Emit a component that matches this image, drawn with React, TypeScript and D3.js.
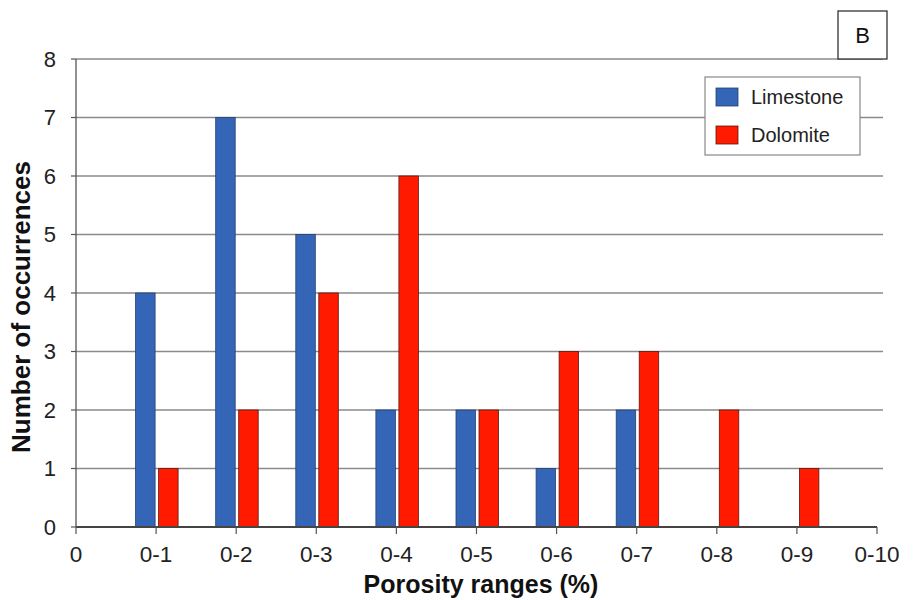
import React from 'react';
import { scaleLinear, range } from 'd3';

// tick labels along the x axis, one per integer position 0..10
const xTickLabels = ['0', '0-1', '0-2', '0-3', '0-4', '0-5', '0-6', '0-7', '0-8', '0-9', '0-10'];
// bars sit on ticks 1..9
const binPositions = [1, 2, 3, 4, 5, 6, 7, 8, 9];
const limestone = [4, 7, 5, 2, 2, 1, 2, 0, 0];
const dolomite = [1, 2, 4, 6, 2, 3, 3, 2, 1];
const yTickValues = [0, 1, 2, 3, 4, 5, 6, 7, 8];
const seriesNames = ['Limestone', 'Dolomite'];

const colors = ['#3565b6', '#ff1a00'];

export default function App() {
  const width = 915;
  const height = 600;
  const left = 76, right = 877, top = 59, bottom = 527;
  const gridEnd = 883;

  const x = scaleLinear().domain([0, 10]).range([left, right]);
  const y = scaleLinear().domain([0, 8]).range([bottom, top]);

  const barW = 19.5;
  const font = 'Arial, "Liberation Sans", sans-serif';

  return (
    <svg width={width} height={height} style={{ position: 'absolute', left: 0, top: 0 }} fontFamily={font}>
      <rect width={width} height={height} fill="#fff" />

      {/* gridlines + y ticks */}
      {yTickValues.map(v => (
        <g key={v}>
          {v > 0 && <line x1={left} x2={gridEnd} y1={y(v)} y2={y(v)} stroke="#8a8a8a" strokeWidth={1.3} />}
          <line x1={left - 5} x2={left} y1={y(v)} y2={y(v)} stroke="#555" strokeWidth={1.2} />
          <text x={56} y={y(v)} dy="0.36em" textAnchor="end" fontSize={22} fill="#222">{v}</text>
        </g>
      ))}

      {/* bars */}
      {binPositions.map((p, i) => (
        <g key={p}>
          {limestone[i] > 0 && (
            <rect x={x(p) - barW - 1} y={y(limestone[i])} width={barW} height={y(0) - y(limestone[i])}
              fill={colors[0]} stroke="#23406f" strokeWidth={0.8} />
          )}
          {dolomite[i] > 0 && (
            <rect x={x(p) + 2.5} y={y(dolomite[i])} width={barW} height={y(0) - y(dolomite[i])}
              fill={colors[1]} stroke="#5a1a10" strokeWidth={0.8} />
          )}
        </g>
      ))}

      {/* axes */}
      <line x1={left} x2={left} y1={top} y2={bottom} stroke="#555" strokeWidth={1.3} />
      <line x1={left} x2={right} y1={bottom} y2={bottom} stroke="#444" strokeWidth={1.8} />
      {range(0, 11).map(i => (
        <g key={i} transform={`translate(${x(i)},${bottom})`}>
          <line y1={0} y2={7} stroke="#555" strokeWidth={1.2} />
          <text y={35} textAnchor="middle" fontSize={22.5} fill="#222">{xTickLabels[i]}</text>
        </g>
      ))}

      {/* axis titles */}
      <text x={481} y={593} textAnchor="middle" fontSize={25} fontWeight="bold" fill="#111">Porosity ranges (%)</text>
      <text transform={`translate(30,307) rotate(-90)`} textAnchor="middle" fontSize={26} fontWeight="bold" fill="#111">Number of occurrences</text>

      {/* legend */}
      <rect x={705} y={77} width={155} height={78} fill="#fff" stroke="#888" strokeWidth={1.2} />
      {seriesNames.map((s, i) => (
        <g key={s} transform={`translate(716,${88 + i * 38})`}>
          <rect width={22} height={18} fill={colors[i]} stroke={i === 0 ? '#23406f' : '#5a1a10'} strokeWidth={0.8} />
          <text x={35} y={9} dy="0.36em" fontSize={20} fill="#222">{s}</text>
        </g>
      ))}

      {/* panel label */}
      <rect x={838} y={11} width={49} height={48} fill="#fff" stroke="#333" strokeWidth={1.3} />
      <text x={862.5} y={35} dy="0.36em" textAnchor="middle" fontSize={22} fill="#111">B</text>
    </svg>
  );
}
